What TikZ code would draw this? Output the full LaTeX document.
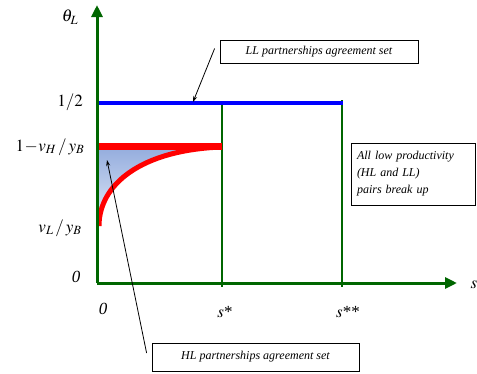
\documentclass[tikz,border=0pt]{standalone}
\usepackage{mathptmx}
\usepackage{fontspec}
\setmainfont{Liberation Serif}
\usetikzlibrary{arrows.meta, positioning, calc}

\definecolor{axisgreen}{RGB}{0,102,0}
\definecolor{shadetop}{RGB}{150,174,222}
\definecolor{shadebot}{RGB}{226,234,248}

\begin{document}
\begin{tikzpicture}[
    x=1pt, y=-1pt,
    every node/.style={align=left},
    axis/.style  ={draw=axisgreen, line width=3pt, -{Triangle[length=12pt,width=11pt]}},
    bound/.style ={draw=axisgreen, line width=2.5pt},
    lbl/.style   ={font=\fontsize{17}{20}\selectfont, inner sep=0pt},
    tag/.style   ={rectangle, draw, thick, inner sep=3pt,
                   font=\fontsize{12}{17}\selectfont\itshape},
    note/.style  ={-{Stealth[length=6pt,width=4pt]}, thick}
]
\useasboundingbox (0,0) rectangle (477,373);

% axes
\coordinate (O) at (97,283);
\coordinate (ytop) at (97,5);
\coordinate (xend) at (457,283);

% shaded HL region
\fill[top color=shadetop, bottom color=shadebot]
    (98,149) -- (98,224) .. controls (99,185) and (140,150) .. (222,149) -- cycle;

% s* and s** bounds
\draw[bound] (222,105) -- (222,287);
\draw[bound] (342,100) -- (342,287);

% LL set
\draw[blue, line width=4pt] (97,103) -- (343,103);
% HL set
\draw[red, line width=7pt] (98,146) -- (222,146);
\draw[red, line width=5pt] (99,226) .. controls (99,185) and (140,150) .. (222,147);

\draw[axis] (O) -- (ytop);
\draw[axis] (O) -- (xend);

% axis labels
\node[lbl] (theta) at (70,17)  {$\theta_{L}$};
\node[lbl] (half)  at (70,102) {$1/2$};
\node[lbl] (vh)    at (50,147) {$1\!-\!v_H\,/\,y_B$};
\node[lbl] (vl)    at (60,228) {$v_L\,/\,y_B$};
\node[lbl] (zy)    at (76,277) {\itshape 0};
\node[lbl] (zx)    at (103,309) {\itshape 0};
\node[lbl] (sone)  at (225,312) {$s$*};
\node[lbl] (stwo)  at (348,312) {$s$**};
\node[lbl] (sx)    at (474,285) {$s$};

% annotations
\node[tag, minimum width=198pt, minimum height=23pt, align=center] (llset) at (319,51.5)
    {LL partnerships agreement set};
\node[tag, minimum width=207pt, minimum height=28pt, align=center] (hlset) at (255.5,357)
    {HL partnerships agreement set};
\node[tag, minimum width=124pt, minimum height=62pt, text width=112pt] (breakup) at (413,174)
    {All low productivity\\(HL and LL)\\pairs break up};

\coordinate (lltip) at (193,102);
\coordinate (hltip) at (107,160);
\draw[note] ([xshift=-5pt,yshift=3pt]llset.west) -- (lltip);
\draw[note] ([xshift=-5pt,yshift=4pt]hlset.west) -- (hltip);
\end{tikzpicture}
\end{document}
